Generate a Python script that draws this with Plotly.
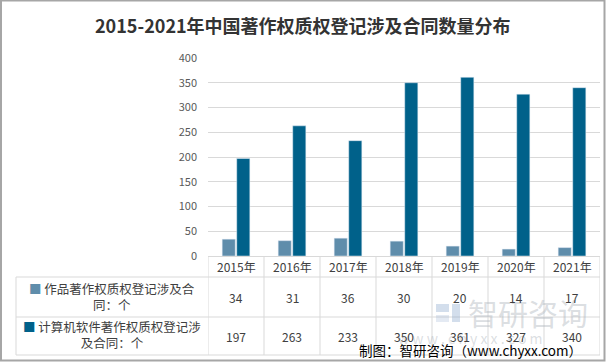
import plotly.graph_objects as go

years = ["2015年", "2016年", "2017年", "2018年", "2019年", "2020年", "2021年"]
works = [34, 31, 36, 30, 20, 14, 17]
software = [197, 263, 233, 350, 361, 327, 340]
series_names = ["作品著作权质权登记涉及合<br>同：个", "计算机软件著作权质权登记涉<br>及合同：个"]
title = "2015-2021年中国著作权质权登记涉及合同数量分布"
source = "制图：智研咨询（www.chyxx.com）"

W, H = 606, 364
ML, MR, MT, MB = 208, 6, 58, 108
PW, PH = W - ML - MR, H - MT - MB
C1, C2 = "#5f8dab", "#00618a"
GRID = "#d9d9d9"
FONT = "Noto Sans CJK SC"
WM = "rgba(175,182,190,0.45)"


def px(x):
    return (x - ML) / PW


def py(y):
    return (H - MB - y) / PH


def ann(text, x, y, size, color, xref="paper", **kw):
    d = dict(text=text, x=x, y=y, xref=xref, yref="paper", showarrow=False,
             xanchor="center", yanchor="middle",
             font=dict(size=size, color=color, family=FONT))
    d.update(kw)
    return d


fig = go.Figure()
fig.add_trace(go.Bar(x=years, y=works, marker_color=C1, name="作品", hoverinfo="skip"))
fig.add_trace(go.Bar(x=years, y=software, marker_color=C2, name="软件", hoverinfo="skip"))

shapes = []
annotations = []
n = len(years)
# table horizontal lines
for yy in (277, 317, 355):
    shapes.append(dict(type="line", xref="paper", yref="paper", x0=px(16), x1=1,
                       y0=py(yy), y1=py(yy), line=dict(color=GRID, width=1)))
# left border of table
shapes.append(dict(type="line", xref="paper", yref="paper", x0=px(16), x1=px(16),
                   y0=py(277), y1=py(355), line=dict(color=GRID, width=1)))
# vertical category lines
for i in range(n + 1):
    shapes.append(dict(type="line", xref="x", yref="paper", x0=i - 0.5, x1=i - 0.5,
                       y0=py(256), y1=py(355), line=dict(color=GRID, width=1)))
# outer border
shapes.append(dict(type="rect", xref="paper", yref="paper", x0=px(1), x1=px(604.5),
                   y0=py(0.5), y1=py(360.5), line=dict(color="#a6a6a6", width=2), layer="above"))

# watermark
annotations.append(ann("智研咨询", px(528), py(312), 30, WM))
annotations.append(ann("w w w . c h y x x . c o m", px(470), py(338), 14, WM))
for (a, b, c, d, col) in [(436, 449, 304, 312, "rgba(130,160,200,0.35)"),
                          (452, 460, 304, 322, "rgba(130,160,200,0.35)"),
                          (436, 449, 315, 322, "rgba(130,160,200,0.22)")]:
    shapes.append(dict(type="rect", xref="paper", yref="paper", x0=px(a), x1=px(b),
                       y0=py(c), y1=py(d), line=dict(width=0), fillcolor=col))

# table cells
for i, yr in enumerate(years):
    annotations.append(ann(yr, yr, py(266), 12, "#404040", xref="x"))
    annotations.append(ann(str(works[i]), yr, py(297), 12, "#404040", xref="x"))
    annotations.append(ann(str(software[i]), yr, py(336), 12, "#404040", xref="x"))

for name, col, yy in [(series_names[0], C1, 296), (series_names[1], C2, 334)]:
    annotations.append(ann(f"<span style='color:{col}'>■</span> " + name, px(112), py(yy), 12.5,
                           "#404040", align="center"))

annotations.append(ann(f"<b>{title}</b>", px(303), py(25), 18, "#333333"))
annotations.append(ann(source, px(470), py(350), 13.5, "#000000"))

fig.update_layout(
    width=W, height=H,
    margin=dict(l=ML, r=MR, t=MT, b=MB),
    paper_bgcolor="white", plot_bgcolor="white",
    showlegend=False,
    barmode="group", bargap=0.48, bargroupgap=0.1,
    xaxis=dict(showticklabels=False, showgrid=False, zeroline=False, showline=False,
               range=[-0.5, n - 0.5]),
    yaxis=dict(range=[0, 400], dtick=50, showgrid=True, gridcolor=GRID, gridwidth=1,
               zeroline=True, zerolinecolor=GRID, zerolinewidth=1,
               tickfont=dict(size=11, color="#595959", family=FONT), ticks="", ticklabelstandoff=10),
    shapes=shapes, annotations=annotations,
    font=dict(family=FONT),
)

fig.write_html("out.html", config={"displayModeBar": False},
               post_script="document.body.style.margin='0';document.body.style.overflow='hidden';")
